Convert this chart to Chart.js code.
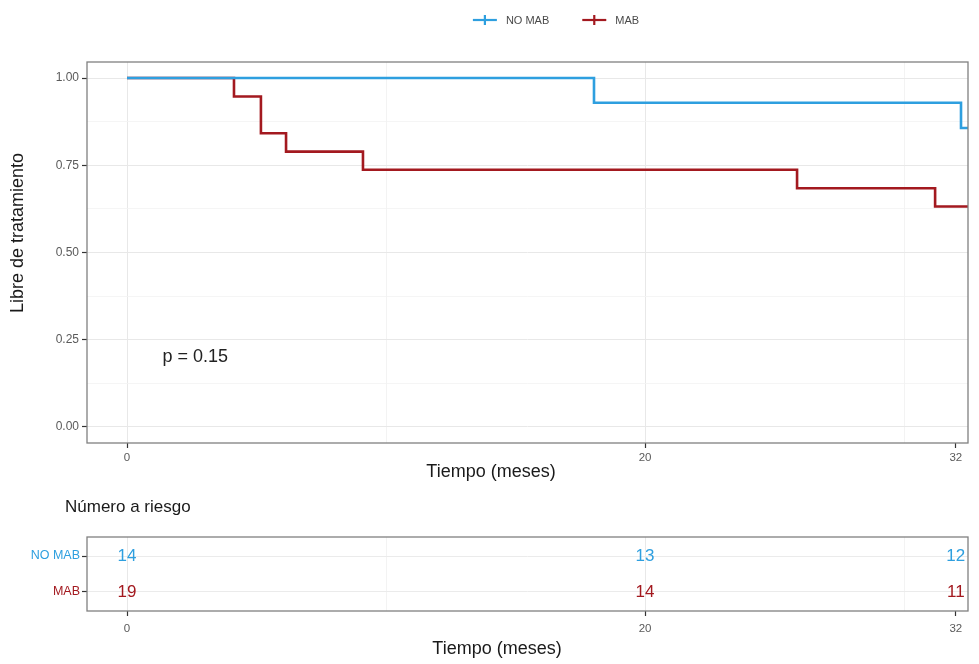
<!DOCTYPE html>
<html><head><meta charset="utf-8">
<script src="https://cdn.jsdelivr.net/npm/chart.js@4.4.0/dist/chart.umd.min.js"></script>
<style>
html,body{margin:0;padding:0;background:#fff;}
#wrap{position:relative;width:979px;height:664px;overflow:hidden;}
#km{position:absolute;left:0;top:0;}
#risk{position:absolute;left:0;top:490px;}
</style></head><body>
<div id="wrap"><canvas id="km" width="979" height="490"></canvas><canvas id="risk" width="979" height="174"></canvas></div>
<script>
// ---- data ----
const groups = ['NO MAB', 'MAB'];
const noMabTimes = [0, 18.03, 32.2, 32.47];
const noMabSurv  = [1, 0.929, 0.857, 0.857];
const mabTimes = [0, 4.13, 5.17, 6.14, 9.11, 25.87, 31.2, 32.47];
const mabSurv  = [1, 0.947, 0.842, 0.789, 0.737, 0.684, 0.632, 0.632];
const riskTimes = [0, 20, 32];
const riskNoMab = [14, 13, 12];
const riskMab   = [19, 14, 11];
const xTickLabels = [0, 20, 32];
const xGridLines = [0, 10, 20, 30];
const yTickLabels = [0, 0.25, 0.5, 0.75, 1];
const pValueText = 'p = 0.15';
const xTitle = 'Tiempo (meses)';
const yTitle = 'Libre de tratamiento';
const riskTitle = 'Número a riesgo';

const BLUE = '#2e9fdf';
const RED = '#a3191f';
const FONT = '"Liberation Sans", Arial, sans-serif';
const X_MIN = -1.545, X_MAX = 32.47;

const yMinor = yTickLabels.slice(1).map((v, i) => (v + yTickLabels[i]) / 2);
const yAllTicks = yTickLabels.concat(yMinor).sort((a, b) => a - b);
const xAllTicks = Array.from(new Set(xGridLines.concat(xTickLabels))).sort((a, b) => a - b);

function xScaleOpts(height, pad) {
  return {
    type: 'linear', min: X_MIN, max: X_MAX,
    afterBuildTicks: s => { s.ticks = xAllTicks.map(v => ({ value: v })); },
    afterFit: s => { s.height = height; },
    border: { display: false },
    grid: {
      tickLength: 5,
      color: c => (c.tick && xGridLines.includes(c.tick.value)) ? (xTickLabels.includes(c.tick.value) ? '#e8e8e8' : '#f0f0f0') : 'rgba(0,0,0,0)',
      lineWidth: c => (c.tick && xTickLabels.includes(c.tick.value)) ? 1 : 0.8,
      tickColor: c => (c.tick && xTickLabels.includes(c.tick.value)) ? '#333' : 'rgba(0,0,0,0)',
      tickWidth: 1.2
    },
    ticks: {
      autoSkip: false, maxRotation: 0, padding: pad,
      color: '#5a5a5a', font: { family: FONT, size: 11.5 },
      callback: v => xTickLabels.includes(v) ? String(v) : ''
    }
  };
}

const panelBorder = {
  id: 'panelBorder',
  afterDatasetsDraw(chart) {
    const a = chart.chartArea, ctx = chart.ctx;
    ctx.save();
    ctx.strokeStyle = '#808080';
    ctx.lineWidth = 1.3;
    ctx.strokeRect(a.left, a.top, a.right - a.left, a.bottom - a.top);
    ctx.restore();
  }
};

// ---- KM chart ----
const kmDecor = {
  id: 'kmDecor',
  afterDraw(chart) {
    const ctx = chart.ctx, xs = chart.scales.x, ys = chart.scales.y;
    ctx.save();
    // p value
    ctx.fillStyle = '#222';
    ctx.font = '18px ' + FONT;
    ctx.textAlign = 'left'; ctx.textBaseline = 'middle';
    ctx.fillText(pValueText, xs.getPixelForValue(1.37), ys.getPixelForValue(0.2));
    // axis titles
    ctx.fillStyle = '#1a1a1a';
    ctx.font = '18px ' + FONT;
    ctx.textAlign = 'center';
    ctx.fillText(xTitle, 491, 472);
    ctx.save();
    ctx.translate(18, 233);
    ctx.rotate(-Math.PI / 2);
    ctx.fillText(yTitle, 0, 0);
    ctx.restore();
    // legend
    ctx.font = '11px ' + FONT;
    const items = chart.data.datasets.map(d => ({ label: d.label, color: d.borderColor, w: ctx.measureText(d.label).width }));
    const sym = 24, gap1 = 9, gap2 = 33;
    let total = 0;
    items.forEach((it, i) => { total += sym + gap1 + it.w + (i < items.length - 1 ? gap2 : 0); });
    let x = 556 - total / 2;
    const y = 20;
    items.forEach(it => {
      ctx.strokeStyle = it.color; ctx.lineWidth = 2.2;
      ctx.beginPath(); ctx.moveTo(x, y); ctx.lineTo(x + sym, y); ctx.stroke();
      ctx.beginPath(); ctx.moveTo(x + sym / 2, y - 5); ctx.lineTo(x + sym / 2, y + 5); ctx.stroke();
      ctx.fillStyle = '#4a4a4a'; ctx.textAlign = 'left';
      ctx.fillText(it.label, x + sym + gap1, y + 1);
      x += sym + gap1 + it.w + gap2;
    });
    ctx.restore();
  }
};

new Chart(document.getElementById('km'), {
  type: 'line',
  data: {
    datasets: [
      { label: groups[0], data: noMabTimes.map((t, i) => ({ x: t, y: noMabSurv[i] })), borderColor: BLUE, backgroundColor: BLUE, borderWidth: 2.6, stepped: true, pointRadius: 0, fill: false },
      { label: groups[1], data: mabTimes.map((t, i) => ({ x: t, y: mabSurv[i] })), borderColor: RED, backgroundColor: RED, borderWidth: 2.6, stepped: true, pointRadius: 0, fill: false }
    ]
  },
  options: {
    responsive: false, animation: false, devicePixelRatio: 1,
    layout: { padding: { top: 62, right: 11, left: 0, bottom: 0 } },
    plugins: { legend: { display: false }, tooltip: { enabled: false } },
    scales: {
      x: xScaleOpts(47, 3),
      y: {
        type: 'linear', min: -0.046, max: 1.046,
        afterBuildTicks: s => { s.ticks = yAllTicks.map(v => ({ value: v })); },
        afterFit: s => { s.width = 87; },
        border: { display: false },
        grid: {
          tickLength: 5,
          color: c => (c.tick && yTickLabels.includes(c.tick.value)) ? '#e8e8e8' : '#f2f2f2',
          lineWidth: c => (c.tick && yTickLabels.includes(c.tick.value)) ? 1 : 0.8,
          tickColor: c => (c.tick && yTickLabels.includes(c.tick.value)) ? '#333' : 'rgba(0,0,0,0)',
          tickWidth: 1.2
        },
        ticks: {
          autoSkip: false, padding: 3,
          color: '#5a5a5a', font: { family: FONT, size: 12 },
          callback: v => yTickLabels.includes(v) ? v.toFixed(2) : ''
        }
      }
    }
  },
  plugins: [panelBorder, kmDecor]
});

// ---- risk table ----
const riskDecor = {
  id: 'riskDecor',
  afterDraw(chart) {
    const ctx = chart.ctx;
    ctx.save();
    ctx.font = '17px ' + FONT;
    ctx.textAlign = 'center'; ctx.textBaseline = 'middle';
    chart.data.datasets.forEach((d, di) => {
      const meta = chart.getDatasetMeta(di);
      ctx.fillStyle = d.borderColor;
      meta.data.forEach((el, i) => { ctx.fillText(String(d.data[i].n), el.x, el.y); });
    });
    ctx.fillStyle = '#1a1a1a';
    ctx.font = '17px ' + FONT;
    ctx.textAlign = 'left';
    ctx.fillText(riskTitle, 65, 17);
    ctx.font = '18px ' + FONT;
    ctx.textAlign = 'center';
    ctx.fillText(xTitle, 497, 159);
    ctx.restore();
  }
};

new Chart(document.getElementById('risk'), {
  type: 'scatter',
  data: {
    datasets: [
      { label: groups[0], data: riskTimes.map((t, i) => ({ x: t, y: 2, n: riskNoMab[i] })), borderColor: BLUE, backgroundColor: BLUE, pointRadius: 0 },
      { label: groups[1], data: riskTimes.map((t, i) => ({ x: t, y: 1, n: riskMab[i] })), borderColor: RED, backgroundColor: RED, pointRadius: 0 }
    ]
  },
  options: {
    responsive: false, animation: false, devicePixelRatio: 1,
    layout: { padding: { top: 47, right: 11, left: 0, bottom: 0 } },
    plugins: { legend: { display: false }, tooltip: { enabled: false } },
    scales: {
      x: xScaleOpts(53, 6),
      y: {
        type: 'linear', min: 0.47, max: 2.53,
        afterBuildTicks: s => { s.ticks = [{ value: 1 }, { value: 2 }]; },
        afterFit: s => { s.width = 87; },
        border: { display: false },
        grid: { tickLength: 5, color: '#ebebeb', tickColor: '#333', tickWidth: 1.2 },
        ticks: {
          autoSkip: false, padding: 2,
          font: { family: FONT, size: 12.5 },
          color: c => c.tick && c.tick.value === 2 ? BLUE : RED,
          callback: v => v === 2 ? groups[0] : (v === 1 ? groups[1] : '')
        }
      }
    }
  },
  plugins: [panelBorder, riskDecor]
});
</script>
</body></html>
